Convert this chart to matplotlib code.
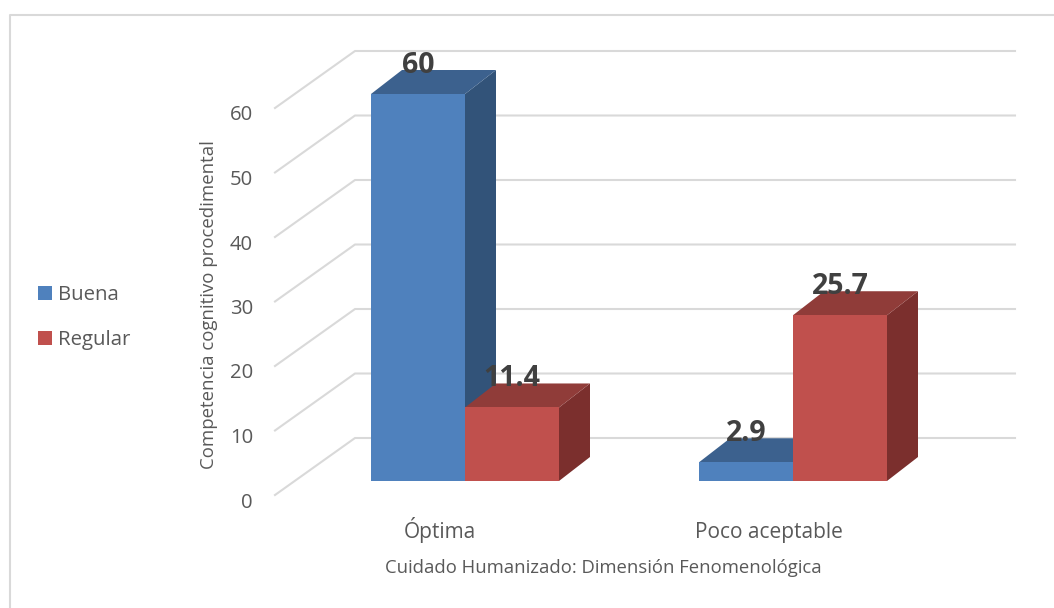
import matplotlib
matplotlib.use("Agg")
import matplotlib.pyplot as plt
from matplotlib.patches import Polygon, Rectangle

categories = ["Óptima", "Poco aceptable"]
buena = [60, 2.9]
regular = [11.4, 25.7]
y_ticks = [0, 10, 20, 30, 40, 50, 60]

plt.rcParams['font.family'] = ['Open Sans', 'DejaVu Sans']

# one x unit is one bar width, one y unit is one point of the value axis
X_PX = 94.0
Y_PX = 6.45
GROUP_GAP = 328 / X_PX
BAR_DX = 31 / X_PX
BAR_DY = 24 / Y_PX
WALL_DX = 80 / X_PX
WALL_DY = 57 / Y_PX
WALL_LEFT = (275 - 465) / X_PX
WALL_RIGHT = (1015 - 465) / X_PX
FLOOR = -14 / Y_PX

fig = plt.figure(figsize=(10.54, 6.08), dpi=100)
ax = fig.add_axes([0, 0, 1, 1])
x_min, x_max = -465 / X_PX, (1054 - 465) / X_PX
y_min, y_max = (481 - 608) / Y_PX, 481 / Y_PX
ax.set_xlim(x_min, x_max)
ax.set_ylim(y_min, y_max)
ax.axis("off")

# chart frame, only the top and left edges fall inside the picture
frame_x = (9.5 - 465) / X_PX
frame_y = (481 - 14.5) / Y_PX
ax.plot([frame_x, frame_x, x_max], [y_min, frame_y, frame_y], color="#d9d9d9", linewidth=1.5)

# back wall grid and its slanted part on the left
for t in y_ticks:
    y = FLOOR + t
    ax.plot([WALL_LEFT, WALL_LEFT + WALL_DX, WALL_RIGHT],
            [y, y + WALL_DY, y + WALL_DY], color="#d9d9d9", linewidth=1.5, zorder=1)
    ax.text((253 - 465) / X_PX, y - 12.5 / Y_PX, str(t), ha="right", va="baseline",
            fontsize=14.6, color="#595959")


def bar3d(x, value, front, top, side):
    ax.add_patch(Polygon([(x + 1, 0), (x + 1 + BAR_DX, BAR_DY),
                          (x + 1 + BAR_DX, value + BAR_DY), (x + 1, value)],
                         facecolor=side, edgecolor="none", zorder=2))
    ax.add_patch(Polygon([(x, value), (x + BAR_DX, value + BAR_DY),
                          (x + 1 + BAR_DX, value + BAR_DY), (x + 1, value)],
                         facecolor=top, edgecolor="none", zorder=2))
    ax.add_patch(Rectangle((x, 0), 1, value, facecolor=front, edgecolor="none", zorder=2))
    label = f"{value:g}"
    ax.text(x + 0.5, value + 21 / Y_PX, label, ha="center", va="baseline",
            fontsize=20.5, fontweight="bold", color="#404040", zorder=3)


for i in range(len(categories)):
    x0 = i * GROUP_GAP
    bar3d(x0 - 1, buena[i], "#4f81bd", "#3c618e", "#325379")
    bar3d(x0, regular[i], "#c0504d", "#903c39", "#7b2f2d")
    ax.text(x0 - (465 - 440 if i == 0 else 793 - 769) / X_PX, -57 / Y_PX, categories[i],
            ha="center", va="baseline", fontsize=15, color="#595959")

ax.text((603.5 - 465) / X_PX, -92 / Y_PX, "Cuidado Humanizado: Dimensión Fenomenológica",
        ha="center", va="baseline", fontsize=13.3, color="#595959")
ax.text((209 - 465) / X_PX, (481 - 305) / Y_PX, "Competencia cognitivo procedimental",
        ha="center", va="center", rotation=90, fontsize=13.4, color="#595959")

# legend
for name, color, py in [("Buena", "#4f81bd", 293), ("Regular", "#c0504d", 338)]:
    ax.add_patch(Rectangle(((38 - 465) / X_PX, (481 - py - 7) / Y_PX), 14 / X_PX, 14 / Y_PX,
                           facecolor=color, edgecolor="none"))
    ax.text((58 - 465) / X_PX, (481 - py - 7) / Y_PX, name, ha="left", va="baseline",
            fontsize=14.7, color="#595959")

fig.savefig("out.png", dpi=100)
